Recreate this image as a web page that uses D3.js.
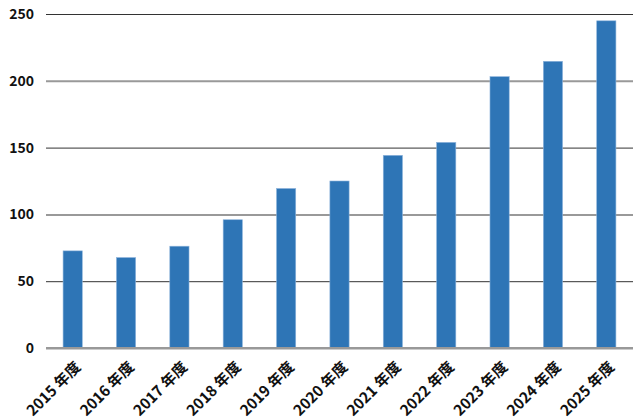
<!DOCTYPE html>
<html>
<head>
<meta charset="utf-8">
<script src="https://cdn.jsdelivr.net/npm/d3@7"></script>
<style>
  body { margin: 0; background: #fff; }
  text { font-family: "Noto Sans CJK JP", "Open Sans", sans-serif; font-weight: 600; fill: #111; }
</style>
</head>
<body>
<div class="chart"></div>
<script>
// values
const years = ['2015 年度', '2016 年度', '2017 年度', '2018 年度', '2019 年度', '2020 年度',
  '2021 年度', '2022 年度', '2023 年度', '2024 年度', '2025 年度'];
const values = [72.7, 67.7, 76.2, 96, 119.4, 125, 144.2, 153.9, 203.1, 214.6, 244.9];
const yTicks = [0, 50, 100, 150, 200, 250];

const width = 640;
const height = 420;
const margin = { top: 14, right: 7, bottom: 72, left: 46 };

const svg = d3.select('.chart')
  .append('svg')
  .attr('width', width)
  .attr('height', height);

const x = d3.scaleBand()
  .domain(years)
  .range([margin.left, width - margin.right])
  .paddingInner(0.64)
  .paddingOuter(0.32);

const y = d3.scaleLinear()
  .domain([0, 250])
  .range([height - margin.bottom, margin.top]);

// gridlines alternate between thick grey and thin dark
const grid = svg.append('g')
  .attr('transform', `translate(${margin.left},0)`)
  .call(d3.axisLeft(y).tickValues(yTicks).tickSize(0).tickPadding(12));

grid.select('.domain').remove();
grid.selectAll('.tick line')
  .attr('x2', width - margin.left - margin.right)
  .attr('stroke', (d, i) => i % 2 === 0 ? '#999' : '#333')
  .attr('stroke-width', (d, i) => i % 2 === 0 ? 2 : 1);
grid.selectAll('.tick text')
  .attr('font-size', 14)
  .style('font-family', '"Noto Sans CJK JP", "Open Sans", sans-serif');

svg.append('g')
  .selectAll('rect')
  .data(values)
  .enter()
    .append('rect')
    .attr('x', (d, i) => x(years[i]))
    .attr('y', d => y(d))
    .attr('width', x.bandwidth())
    .attr('height', d => y(0) - y(d))
    .attr('fill', '#2e75b6')
    .attr('stroke', '#8db4dc')
    .attr('stroke-width', 0.6);

// redraw the zero line over the bars
svg.append('line')
  .attr('x1', margin.left)
  .attr('x2', width - margin.right)
  .attr('y1', y(0))
  .attr('y2', y(0))
  .attr('stroke', '#999')
  .attr('stroke-width', 2);

const xAxis = svg.append('g')
  .attr('transform', `translate(0,${y(0)})`)
  .call(d3.axisBottom(x).tickSize(0).tickPadding(0));

xAxis.select('.domain').remove();
xAxis.selectAll('.tick text')
  .attr('font-size', 15)
  .style('font-family', '"Noto Sans CJK JP", "Open Sans", sans-serif')
  .attr('text-anchor', 'end')
  .attr('dy', 0)
  .attr('transform', 'translate(9,20) rotate(-45)');
</script>
</body>
</html>
